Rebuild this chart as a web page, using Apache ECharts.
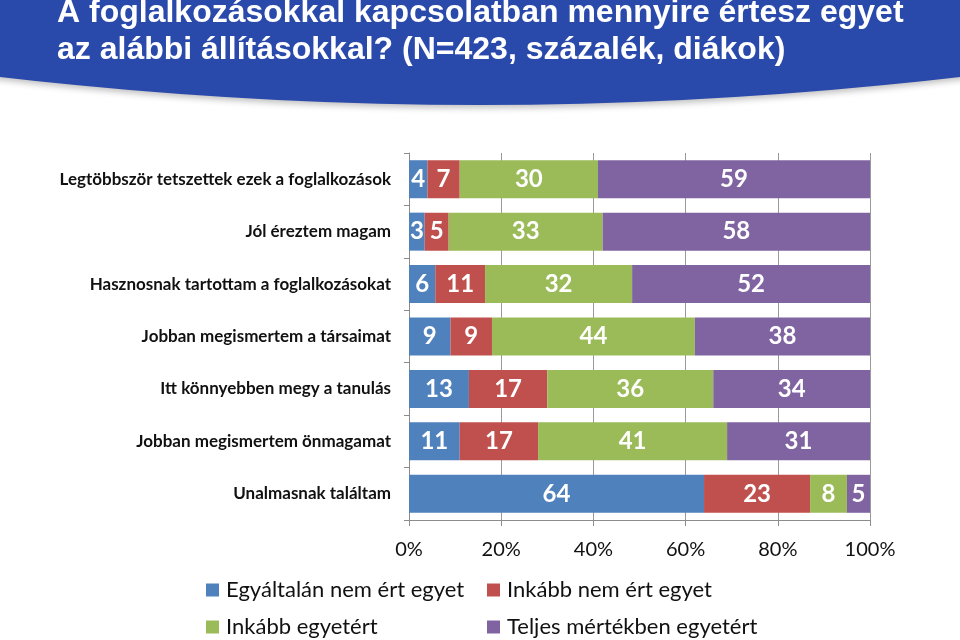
<!DOCTYPE html>
<html>
<head>
<meta charset="utf-8">
<script src="https://cdn.jsdelivr.net/npm/echarts@6/dist/echarts.min.js"></script>
<style>html,body{margin:0;padding:0;background:#fff;}#c{width:960px;height:640px;}</style>
</head>
<body>
<div id="c"></div>
<script>
const categories = [
  'Legtöbbször tetszettek ezek a foglalkozások',
  'Jól éreztem magam',
  'Hasznosnak tartottam a foglalkozásokat',
  'Jobban megismertem a társaimat',
  'Itt könnyebben megy a tanulás',
  'Jobban megismertem önmagamat',
  'Unalmasnak találtam'
];
const seriesNames = ['Egyáltalán nem ért egyet', 'Inkább nem ért egyet', 'Inkább egyetért', 'Teljes mértékben egyetért'];
// shares in percent (labels show them rounded)
const egyaltalanNem = [4, 3.4, 5.7, 9, 13, 11, 64];
const inkabbNem = [7, 5.2, 10.8, 9, 17, 17, 23];
const inkabbEgyetert = [30, 33.4, 31.9, 44, 36, 41, 8];
const teljesen = [59, 58, 51.6, 38, 34, 31, 5];
const xTicks = [0, 20, 40, 60, 80, 100];

const colors = ['#4f81bd', '#c0504d', '#9bbb59', '#8064a2'];
const values = [egyaltalanNem, inkabbNem, inkabbEgyetert, teljesen];

const chart = echarts.init(document.getElementById('c'), null, {renderer: 'canvas'});
const option = {
  animation: false,
  backgroundColor: '#ffffff',
  graphic: [
    {
      type: 'circle',
      z: 0,
      silent: true,
      shape: {cx: 480, cy: -4023, r: 4128},
      style: {fill: '#2a4aab', shadowBlur: 6, shadowColor: 'rgba(0,0,0,0.25)', shadowOffsetY: 3}
    }
  ],
  title: {
    text: 'A foglalkozásokkal kapcsolatban mennyire értesz egyet\naz alábbi állításokkal? (N=423, százalék, diákok)',
    left: 57,
    top: -5,
    z: 10,
    padding: 0,
    textStyle: {
      color: '#ffffff',
      fontFamily: 'Liberation Sans',
      fontWeight: 'bold',
      fontSize: 32,
      lineHeight: 37
    }
  },
  grid: {left: 409, right: 90, top: 153, bottom: 120, containLabel: false},
  xAxis: {
    type: 'value',
    min: xTicks[0],
    max: xTicks[xTicks.length - 1],
    interval: 20,
    axisLine: {show: true, lineStyle: {color: '#8c8c8c'}},
    axisTick: {show: true, length: 6, lineStyle: {color: '#8c8c8c'}},
    splitLine: {show: true, lineStyle: {color: '#9a9a9a'}},
    axisLabel: {formatter: '{value}%', fontSize: 20, color: '#111', fontFamily: 'Lato', margin: 20}
  },
  yAxis: {
    type: 'category',
    inverse: true,
    data: categories,
    axisLine: {show: true, lineStyle: {color: '#8c8c8c'}},
    axisTick: {show: true, length: 5, lineStyle: {color: '#8c8c8c'}},
    axisLabel: {fontSize: 17, fontWeight: 'bold', color: '#111', fontFamily: 'Lato', margin: 18}
  },
  legend: [
    {
      data: [seriesNames[0], seriesNames[2]],
      orient: 'vertical',
      left: 206,
      top: 579,
      itemWidth: 13,
      itemHeight: 13,
      itemGap: 15,
      icon: 'rect',
      padding: 0,
      textStyle: {fontSize: 22, color: '#111', fontFamily: 'Lato', padding: [0, 0, 0, 2]}
    },
    {
      data: [seriesNames[1], seriesNames[3]],
      orient: 'vertical',
      left: 487,
      top: 579,
      itemWidth: 13,
      itemHeight: 13,
      itemGap: 15,
      icon: 'rect',
      padding: 0,
      textStyle: {fontSize: 22, color: '#111', fontFamily: 'Lato', padding: [0, 0, 0, 2]}
    }
  ],
  series: seriesNames.map((name, i) => ({
    name: name,
    type: 'bar',
    stack: 'total',
    barWidth: 38,
    data: values[i],
    itemStyle: {color: colors[i]},
    label: {
      show: true,
      position: 'inside',
      color: '#ffffff',
      fontSize: 24,
      fontFamily: 'Lato',
      fontWeight: 'bold',
      formatter: (p) => String(Math.round(p.value))
    }
  }))
};
chart.setOption(option);
</script>
</body>
</html>
